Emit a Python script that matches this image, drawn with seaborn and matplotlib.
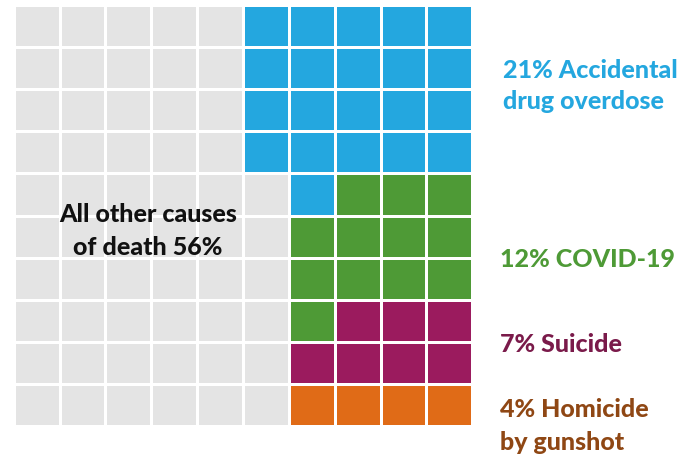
import numpy as np
import matplotlib
matplotlib.use("Agg")
import matplotlib.pyplot as plt
from matplotlib.colors import ListedColormap
import seaborn as sns

# ---- data ----
categories = ["Homicide by gunshot", "Suicide", "COVID-19", "Accidental drug overdose", "All other causes"]
counts = [4, 7, 12, 21, 56]
cell_colors = ["#e06b17", "#9b1b5e", "#4e9a36", "#24a7df", "#e4e4e4"]
text_colors = ["#8f4714", "#7a1a4a", "#4e9a36", "#24a7df", "#111111"]
label_lines = [
    ["4% Homicide", "by gunshot"],
    ["7% Suicide"],
    ["12% COVID-19"],
    ["21% Accidental", "drug overdose"],
    ["All other causes", "of death 56%"],
]

n_rows, n_cols = 10, 10

# fill order: the four right columns bottom-up (right to left), then column 5 top-down, then the rest
order = [(r, c) for r in range(n_rows - 1, -1, -1) for c in (9, 8, 7, 6)]
order += [(r, 5) for r in range(n_rows)]
order += [(r, c) for c in range(5) for r in range(n_rows)]

mat = np.zeros((n_rows, n_cols), dtype=int)
k = 0
for cat, cnt in enumerate(counts):
    for _ in range(cnt):
        r, c = order[k]
        mat[r, c] = cat
        k += 1

sns.set_theme(style="white")
plt.rcParams['font.family'] = ['Lato', 'DejaVu Sans']

W, H = 696, 462
fig = plt.figure(figsize=(W / 100, H / 100), dpi=100)
# grid spans approx x 15..471, y 6..425 (pixels)
lw_px = 2.7
x0, x1 = 15 - lw_px / 2, 471 + lw_px / 2
y0, y1 = 6 - lw_px / 2, 425 + lw_px / 2
ax = fig.add_axes([x0 / W, 1 - y1 / H, (x1 - x0) / W, (y1 - y0) / H])
sns.heatmap(mat, cmap=ListedColormap(cell_colors), vmin=-0.5, vmax=len(counts) - 0.5,
            cbar=False, linewidths=lw_px * 72 / 100, linecolor="white",
            xticklabels=False, yticklabels=False, ax=ax)
ax.set_xticks([]); ax.set_yticks([])
for s in ax.spines.values():
    s.set_visible(False)

# label placement (pixel baselines)
label_pos = [
    (500, [417, 450], "left"),
    (500, [352], "left"),
    (500, [267], "left"),
    (503, [78, 109], "left"),
    (148, [222, 255], "center"),
]
for lines, (px, baselines, ha), col in zip(label_lines, label_pos, text_colors):
    for line, by in zip(lines, baselines):
        fig.text(px / W, 1 - by / H, line, color=col, fontsize=18, fontweight=900,
                 ha=ha, va="baseline")

fig.savefig("out.png", dpi=100, facecolor="white")
